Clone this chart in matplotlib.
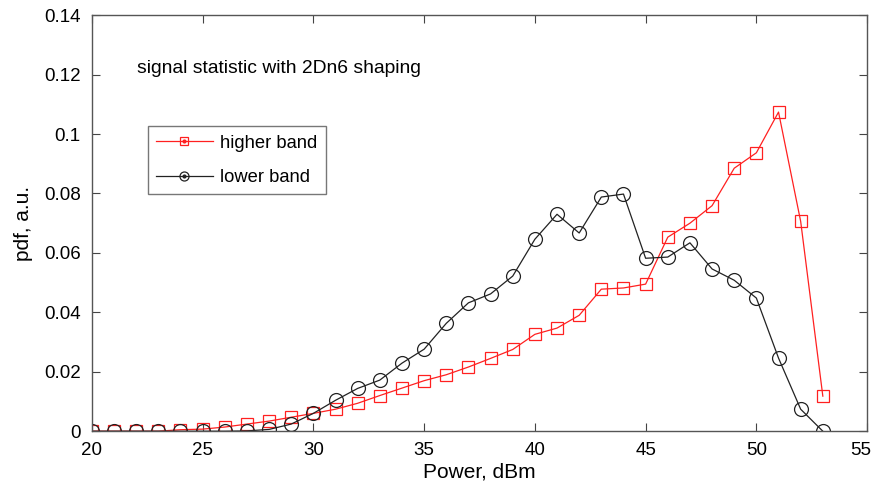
import matplotlib
matplotlib.use("Agg")
import matplotlib.pyplot as plt
import matplotlib.transforms as mtransforms
from matplotlib.lines import Line2D

plt.rcParams['font.family'] = ['Liberation Sans', 'DejaVu Sans']

power = list(range(20, 54))
higher = [0, 0, 0, 0, 0.0005, 0.0007, 0.0014, 0.0024, 0.0034, 0.0047, 0.006,
          0.0074, 0.0094, 0.012, 0.0145, 0.017, 0.019, 0.0216, 0.0245, 0.0275,
          0.0326, 0.0347, 0.039, 0.0478, 0.0482, 0.0495, 0.0653, 0.070, 0.0759,
          0.0885, 0.0937, 0.1074, 0.0706, 0.0118]
lower = [0, 0, 0, 0, 0, 0, 0, 0.0001, 0.0006, 0.0024, 0.006,
         0.0104, 0.0144, 0.0172, 0.0229, 0.0276, 0.0363, 0.0432, 0.0462, 0.0522,
         0.0646, 0.0730, 0.0667, 0.0788, 0.0798, 0.0582, 0.0586, 0.0634, 0.0546,
         0.0508, 0.0448, 0.0246, 0.0074, 0.0]

fig = plt.figure(figsize=(8.75, 4.9), dpi=100)
ax = fig.add_axes([0.105, 0.120, 0.886, 0.849])

red = '#ff2020'
ax.plot(power, higher, color=red, lw=0.9, marker='s', ms=9, mfc='none', mec=red, mew=0.9)
ax.plot(power, lower, color='#222222', lw=0.9, marker='o', ms=10, mfc='none', mec='#222222', mew=0.9)

ax.set_xlim(20, 55)
ax.set_ylim(0, 0.14)
ax.set_xticks([20, 25, 30, 35, 40, 45, 50, 55])
ax.set_yticks([0, 0.02, 0.04, 0.06, 0.08, 0.1, 0.12, 0.14])
ax.set_yticklabels(['0', '0.02', '0.04', '0.06', '0.08', '0.1', '0.12', '0.14'])
ax.tick_params(direction='in', top=True, right=True, labelsize=13.5, length=6, color='#444444', pad=8)
for s in ax.spines.values():
    s.set_color('#555555')
    s.set_linewidth(1.0)
ax.set_xlabel('Power, dBm', fontsize=15, labelpad=2)
ax.set_ylabel('pdf, a.u.', fontsize=15, labelpad=8)

# nudge the last x tick label so it stays inside the picture
last = ax.get_xticklabels()[-1]
last.set_transform(last.get_transform() + mtransforms.ScaledTranslation(-6 / 100, 0, fig.dpi_scale_trans))

ax.text(22.03, 0.1222, 'signal statistic with 2Dn6 shaping', fontsize=13.9, va='center', ha='left')

h1 = Line2D([], [], color=red, lw=0.9, marker='s', ms=6, mfc='none', mec=red, mew=0.9)
d1 = Line2D([], [], ls='none', marker='o', ms=2, color=red)
h2 = Line2D([], [], color='#222222', lw=0.9, marker='o', ms=6.5, mfc='none', mec='#222222', mew=0.9)
d2 = Line2D([], [], ls='none', marker='o', ms=2, color='#222222')
leg = ax.legend([(h1, d1), (h2, d2)], ['higher band', 'lower band'],
                loc='upper left', bbox_to_anchor=(0.072, 0.733), fontsize=13.2,
                frameon=True, fancybox=False, edgecolor='#555555', handlelength=3.1,
                borderpad=0.45, labelspacing=0.95, handletextpad=0.4, borderaxespad=0)
leg.get_frame().set_linewidth(1.0)

fig.savefig('out.png', dpi=100)
